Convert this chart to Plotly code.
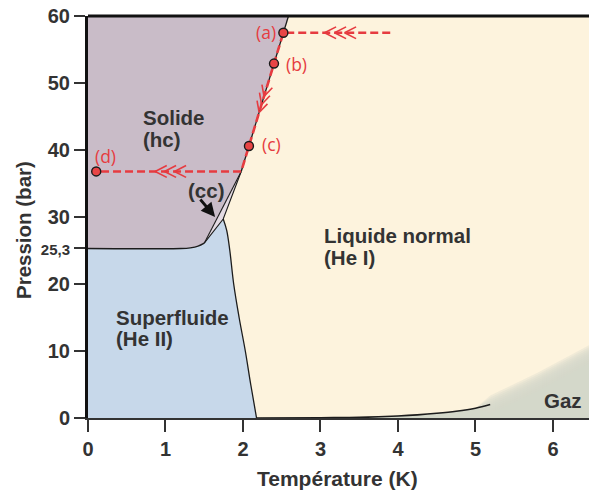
import math
import plotly.graph_objects as go

# ---- phase-diagram data (temperature in K, pressure in bar) ----
melt_T = [2.587, 1.977]                      # solid / normal liquid line
melt_P = [60.0, 36.8]
cc_left_T = [1.977, 1.50]                    # left edge of the (cc) sliver
cc_left_P = [36.8, 26.1]
cc_right_T = [1.977, 1.745, 1.50]            # right edge of the (cc) sliver
cc_right_P = [36.8, 29.7, 26.1]
solid_sf_T = [0.0, 1.20, 1.32, 1.42, 1.50]   # solid / superfluid line
solid_sf_P = [25.3, 25.3, 25.4, 25.65, 26.1]
lambda_T = [1.745, 1.79, 1.83, 1.88, 1.95, 2.03, 2.10, 2.175]
lambda_P = [29.7, 28.0, 25.0, 20.0, 15.0, 10.0, 5.0, 0.0]
vapor_T = [2.175, 3.0, 3.25, 3.5, 3.75, 4.0, 4.25, 4.5, 4.75, 5.0, 5.19]
vapor_P = [0.0, 0.03, 0.06, 0.1, 0.18, 0.3, 0.47, 0.7, 1.0, 1.45, 2.0]
gas_edge_T = [5.19, 5.8, 6.465]              # fuzzy liquid / gas limit above Tc
gas_edge_P = [2.0, 5.4, 9.5]

# cooling path (a) -> (b) -> (c) -> (d)
path_T = [3.90, 2.521, 1.977, 0.106]
path_P = [57.5, 57.5, 36.8, 36.8]
pts_label = ["(a)", "(b)", "(c)", "(d)"]
pts_T = [2.521, 2.400, 2.077, 0.106]
pts_P = [57.5, 52.9, 40.6, 36.8]

x_ticks = [0, 1, 2, 3, 4, 5, 6]
y_ticks = [0, 10, 20, 25.3, 30, 40, 50, 60]
y_ticktext = ["0", "10", "20", "<span style='font-size:15px'>25,3</span>",
              "30", "40", "50", "60"]

# ---- geometry of the plotting area ----
W, H = 589, 490
ML, MR, MT, MB = 88, 0, 16, 72
X_MAX, Y_MAX = 6.465, 60.0
sx = (W - ML - MR) / X_MAX      # px per K
sy = (H - MT - MB) / Y_MAX      # px per bar

C_SOLID = "#c9bcc8"
C_SF = "#c7d8ea"
C_LIQ = "#fdf3dd"
C_GAS = "#d5d6cb"
C_CC = "#e4dbe3"
C_LINE = "#1c1c1c"
C_RED = "#e63b40"
C_TXT = "#333333"

fig = go.Figure()


def poly(T, P, color, opacity=1.0):
    fig.add_trace(go.Scatter(x=T, y=P, fill="toself", fillcolor=color,
                             mode="lines", line=dict(width=0),
                             opacity=opacity, hoverinfo="skip"))


def line(T, P, width=1.3, color=C_LINE, dash=None, shape="linear"):
    fig.add_trace(go.Scatter(x=T, y=P, mode="lines",
                             line=dict(color=color, width=width, dash=dash,
                                       shape=shape),
                             hoverinfo="skip"))


# solid (hc) region
solid_T = [0.0, melt_T[0]] + melt_T[1:] + cc_left_T[1:] + solid_sf_T[::-1][1:]
solid_P = [Y_MAX, melt_P[0]] + melt_P[1:] + cc_left_P[1:] + solid_sf_P[::-1][1:]
poly(solid_T, solid_P, C_SOLID)

# superfluid He II region
sf_T = solid_sf_T + cc_right_T[::-1][1:2] + lambda_T + [0.0]
sf_P = solid_sf_P + cc_right_P[::-1][1:2] + lambda_P + [0.0]
poly(sf_T, sf_P, C_SF)

# (cc) sliver
poly(cc_left_T + cc_right_T[::-1][1:], cc_left_P + cc_right_P[::-1][1:], C_CC)

# gas region with a soft edge built from stacked translucent layers
n_layers = 10
for k in range(n_layers):
    off = (9.0 - 18.0 * k / (n_layers - 1)) / sy
    gT = vapor_T[:-1] + gas_edge_T + [X_MAX, vapor_T[0]]
    gP = vapor_P[:-1] + [p + off for p in gas_edge_P] + [0.0, 0.0]
    poly(gT, gP, C_GAS, opacity=0.3)

# phase boundaries
line(melt_T, melt_P)
line(cc_left_T, cc_left_P, width=1.1)
line(cc_right_T, cc_right_P, width=1.1)
line(solid_sf_T, solid_sf_P, shape="spline")
line(lambda_T, lambda_P, shape="spline")
line(vapor_T, vapor_P, width=1.6, shape="spline")

# red cooling path
line(path_T, path_P, width=2.6, color=C_RED, dash="8px,4px")


def chevrons(T_tips, P_tips, dT, dP, L=13.0, ang=27.0):
    """Open arrow heads drawn in pixel space, pointing along (dT, dP)."""
    dx, dy = dT * sx, dP * sy
    n = math.hypot(dx, dy)
    ux, uy = -dx / n, -dy / n
    xs, ys = [], []
    for t, p in zip(T_tips, P_tips):
        for s in (1, -1):
            a = math.radians(ang) * s
            rx = ux * math.cos(a) - uy * math.sin(a)
            ry = ux * math.sin(a) + uy * math.cos(a)
            xs += [t + L * rx / sx, t, None]
            ys += [p + L * ry / sy, p, None]
    fig.add_trace(go.Scatter(x=xs, y=ys, mode="lines",
                             line=dict(color=C_RED, width=1.6),
                             hoverinfo="skip"))


chevrons([3.052, 3.181, 3.310], [57.5] * 3, -1, 0)
chevrons([0.867, 0.987, 1.116], [36.8] * 3, -1, 0)
slope = (melt_T[1] - melt_T[0]) / (melt_P[1] - melt_P[0])
melt_chev_P = [48.0, 46.8, 45.6]
chevrons([melt_T[0] + (p - melt_P[0]) * slope for p in melt_chev_P],
         melt_chev_P, melt_T[1] - melt_T[0], melt_P[1] - melt_P[0], L=12)

# state points
fig.add_trace(go.Scatter(x=pts_T, y=pts_P, mode="markers",
                         marker=dict(size=9, color="#e84545",
                                     line=dict(color="#1a1a1a", width=1.4)),
                         hoverinfo="skip"))

# ---- text ----
ann = []


def txt(T, P, s, size=20.5, color=C_TXT, xanchor="left", bold=True,
        family="Liberation Sans"):
    ann.append(dict(x=T, y=P, xref="x", yref="y", showarrow=False,
                    text=f"<b>{s}</b>" if bold else s, xanchor=xanchor,
                    yanchor="middle",
                    font=dict(size=size, color=color, family=family)))


txt(0.69, 44.78, "Solide")
txt(0.69, 41.64, "(hc)")
txt(3.02, 27.3, "Liquide normal")
txt(3.02, 24.0, "(He I)")
txt(0.33, 15.07, "Superfluide")
txt(0.33, 11.94, "(He II)")
txt(5.86, 2.54, "Gaz")
txt(1.27, 34.03, "(cc)")

red_pos = [(2.45, 57.57, "right"), (2.53, 52.8, "left"),
           (2.22, 40.85, "left"), (0.07, 39.1, "left")]
for lab, (t, p, xa) in zip(pts_label, red_pos):
    txt(t, p, lab, size=17.5, color=C_RED, xanchor=xa, bold=False,
        family="Open Sans")

# arrow pointing at the (cc) sliver
ann.append(dict(x=1.640, y=30.0, xref="x", yref="y", ax=-16, ay=-19,
                text="", showarrow=True, arrowhead=2, arrowsize=1.0,
                arrowwidth=2.8, arrowcolor="#111111"))

# axis titles
ann.append(dict(x=337, y=478, xref="paper", yref="paper", showarrow=False,
                text="<b>Température (K)</b>", xanchor="center",
                yanchor="middle",
                font=dict(size=21, color=C_TXT, family="Liberation Sans")))
ann.append(dict(x=23, y=230, xref="paper", yref="paper", showarrow=False,
                text="<b>Pression (bar)</b>", textangle=-90,
                xanchor="center", yanchor="middle",
                font=dict(size=20.5, color=C_TXT, family="Liberation Sans")))
# convert pixel placements of the titles to paper coordinates
for a in ann[-2:]:
    a["x"] = (a["x"] - ML) / (W - ML - MR)
    a["y"] = 1 - (a["y"] - MT) / (H - MT - MB)

fig.update_layout(
    width=W, height=H,
    margin=dict(l=ML, r=MR, t=MT, b=MB, pad=0),
    paper_bgcolor="white", plot_bgcolor=C_LIQ,
    showlegend=False, annotations=ann,
    shapes=[dict(type="line", xref="paper", yref="paper", x0=0, x1=1,
                 y0=1, y1=1, line=dict(color="#111111", width=3.2),
                 layer="above")],
    xaxis=dict(range=[0, X_MAX], tickvals=x_ticks, showgrid=False,
               zeroline=False, showline=True, linecolor="#333333",
               linewidth=2, ticks="outside", ticklen=12, tickwidth=1.6,
               tickcolor="#333333",
               tickfont=dict(size=20, color=C_TXT, family="Liberation Sans",
                             weight="bold")),
    yaxis=dict(range=[0, Y_MAX], tickvals=y_ticks, ticktext=y_ticktext,
               showgrid=False, zeroline=False, showline=True,
               linecolor="#111111", linewidth=3, ticks="outside",
               ticklen=11, tickwidth=1.6, tickcolor="#333333",
               tickfont=dict(size=20, color=C_TXT, family="Liberation Sans",
                             weight="bold")),
)

fig.write_html("out.html")
